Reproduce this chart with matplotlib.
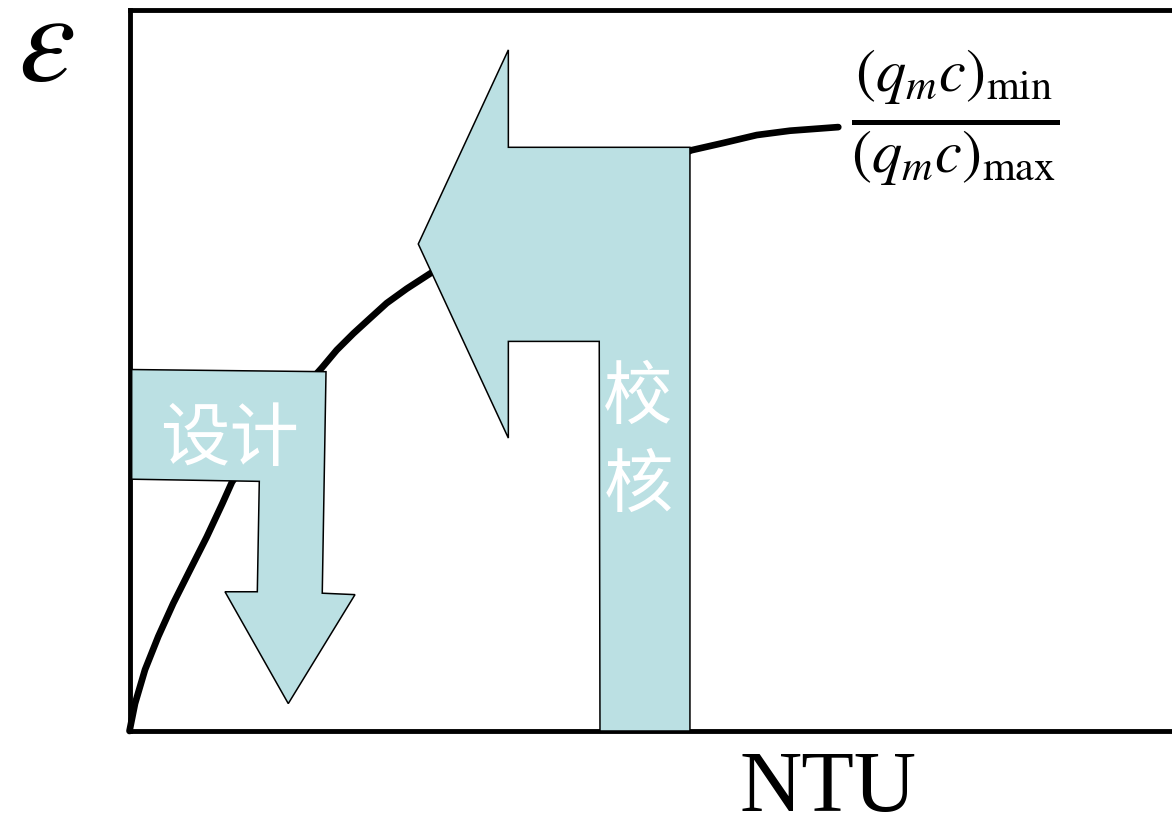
import matplotlib.pyplot as plt
from matplotlib.patches import Polygon
import numpy as np

# effectiveness curve (NTU, epsilon)
ntu = [0, 0.053, 0.149, 0.276, 0.420, 0.580, 0.741, 0.890, 0.983, 1.396,
       1.843, 1.988, 2.148, 2.307, 2.467, 2.659, 2.883, 3.746, 4.609,
       5.392, 5.696, 6.017, 6.336, 6.799]
eps = [0, 0.038, 0.085, 0.131, 0.177, 0.223, 0.269, 0.315, 0.345, 0.431,
       0.503, 0.528, 0.551, 0.572, 0.593, 0.613, 0.634, 0.706, 0.761,
       0.805, 0.815, 0.826, 0.832, 0.837]

# outline of the "design" arrow (bent, pointing down)
design_x = [0.021, 1.885, 1.849, 2.163, 1.523, 0.916, 1.226, 1.245, 0.021]
design_y = [0.501, 0.498, 0.191, 0.189, 0.038, 0.193, 0.193, 0.346, 0.349]

# outline of the "check" arrow (bent, pointing left)
check_x = [3.634, 3.634, 5.376, 5.376, 4.513, 4.506, 3.634, 3.634, 2.770]
check_y = [0.944, 0.809, 0.809, 0.0, 0.0, 0.540, 0.540, 0.406, 0.675]

plt.rcParams['mathtext.fontset'] = 'stix'
cjk = ['Noto Sans CJK SC', 'DejaVu Sans']
fill = '#bbe0e3'

fig = plt.figure(figsize=(11.72, 8.26), dpi=100)
ax = fig.add_axes([129.5 / 1172, 95 / 826, 1 - 129.5 / 1172, 721.5 / 826])
ax.set_xlim(0, 10)
ax.set_ylim(0, 1)
ax.set_xticks([])
ax.set_yticks([])
ax.spines['right'].set_visible(False)
for s in ['left', 'top', 'bottom']:
    ax.spines[s].set_linewidth(3.5)

ax.plot(ntu, eps, color='black', lw=4.8, solid_capstyle='round',
        solid_joinstyle='round', zorder=2, clip_on=False)

for xs, ys in [(design_x, design_y), (check_x, check_y)]:
    ax.add_patch(Polygon(np.column_stack([xs, ys]), closed=True, facecolor=fill,
                         edgecolor='black', lw=1.1, zorder=3))

ax.text(0.964, 0.403, '设计', family=cjk, fontsize=50, color='white',
        ha='center', va='center', zorder=4)
ax.text(4.878, 0.4615, '校', family=cjk, fontsize=50, color='white',
        ha='center', va='center', zorder=4)
ax.text(4.878, 0.3396, '核', family=cjk, fontsize=50, color='white',
        ha='center', va='center', zorder=4)

fig.text(46 / 1172, 1 - 46 / 826, r'$\varepsilon$', fontsize=92,
         ha='center', va='center', fontweight='bold')
fig.text(828 / 1172, 1 - 790 / 826, 'NTU', family='Liberation Serif', fontsize=62,
         ha='center', va='center')
fig.text(955 / 1172, 1 - 118 / 826,
         r'$\frac{(q_m c)_{\mathrm{min}}}{(q_m c)_{\mathrm{max}}}$', fontsize=62,
         ha='center', va='center')

fig.savefig('out.png', dpi=100)
